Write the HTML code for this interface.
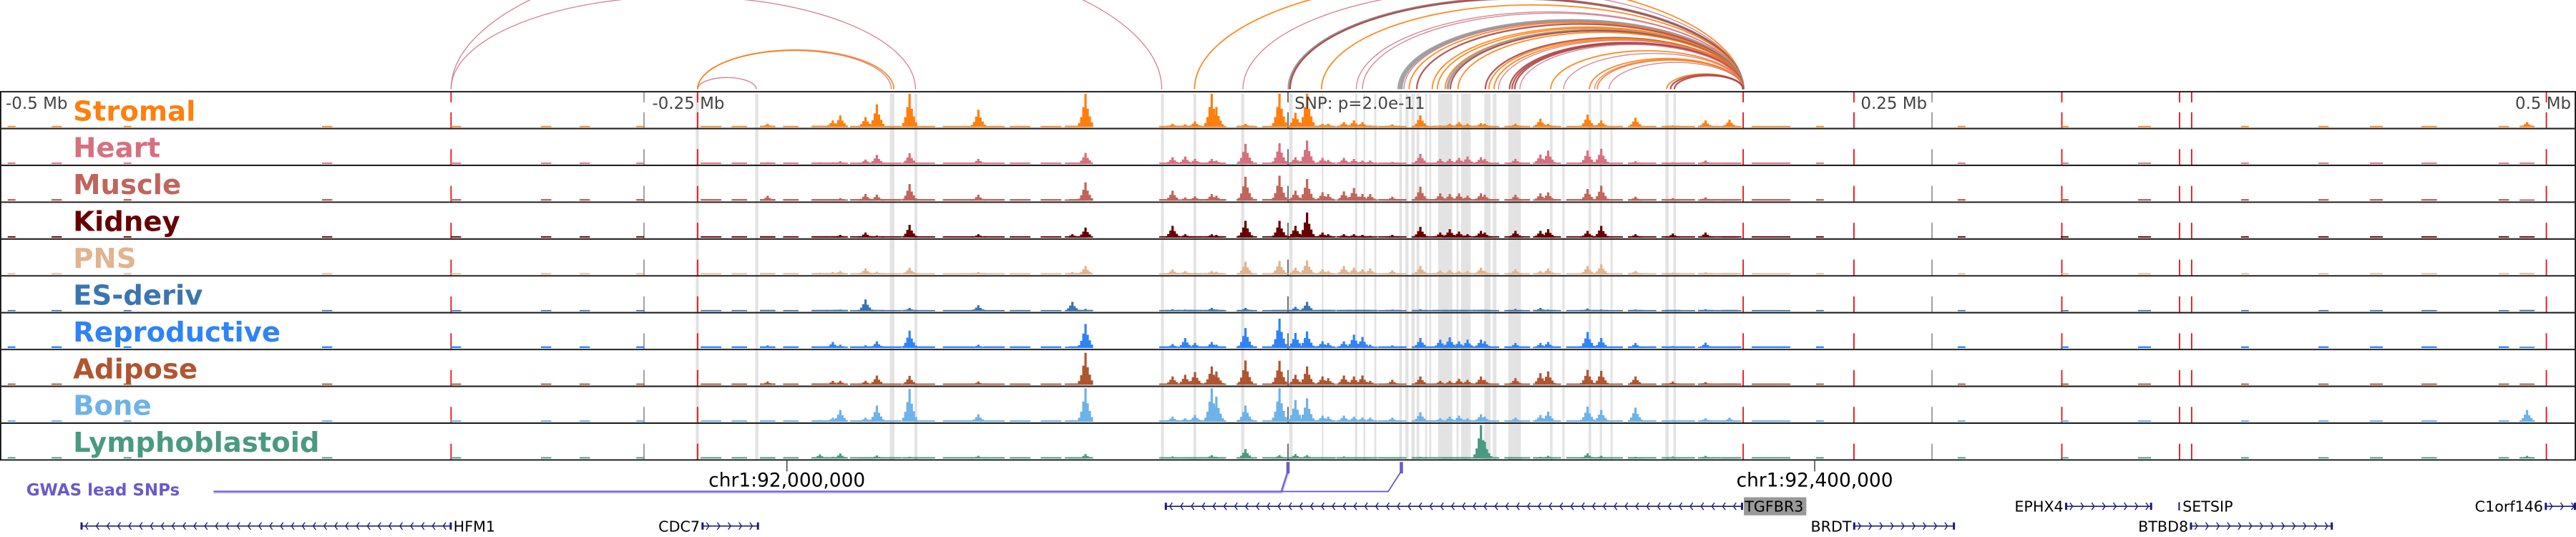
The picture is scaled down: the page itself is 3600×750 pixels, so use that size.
<!DOCTYPE html>
<html><head><meta charset="utf-8">
<style>
html,body{margin:0;padding:0;background:#fff;}
svg{display:block;}
text{font-family:"DejaVu Sans","Liberation Sans",sans-serif;}
</style></head>
<body>
<svg id="chart" xmlns="http://www.w3.org/2000/svg" width="3600" height="750" viewBox="0 0 1568 326.67" preserveAspectRatio="none">
<g id="arcs"></g>
<g id="bands"></g>
<g id="vlines"></g>
<g id="bars"></g>
<g id="frames"></g>
<g id="labels"></g>
<g id="axis"></g>
<g id="genes"></g>
</svg>
<script>
// ---------- data ----------
const tissues = ["Stromal","Heart","Muscle","Kidney","PNS","ES-deriv","Reproductive","Adipose","Bone","Lymphoblastoid"];
const peakKb = [-202,-181.7,-176.7,-173.8,-164,-159.6,-146.9,-120.2,-83.7,-78.6,-44.8,-39.9,-36.1,-29.6,-27.8,-16.5,-3.3,2.9,7.4,13.4,15.6,21.7,25.6,28.9,31.9,40.5,51.4,59.1,62.8,66.4,69.7,74.9,76.4,88.3,98,101,116.3,121.6,134.9,149.4,162.1,171.4,481];
const stromalVals = [.1,.03,.2,.35,.3,.68,1.0,.52,.03,1.0,.1,.08,.17,1.0,.6,.1,1.0,.43,1.0,.1,.1,.15,.2,.15,.05,.08,.35,.05,.1,.15,.1,.12,.1,.1,.25,.1,.37,.2,.28,.05,.2,.22,.15];
const heartVals = [.05,.05,.05,.08,.13,.27,.32,.15,.03,.33,.2,.22,.15,.15,.1,.6,.62,.2,.7,.18,.12,.18,.15,.1,.1,.06,.3,.15,.15,.18,.22,.2,.15,.15,.28,.4,.4,.45,.08,.05,.1,.02,.03];
const muscleVals = [.15,.05,.05,.08,.2,.18,.5,.18,.04,.55,.3,.1,.13,.2,.15,.72,.75,.3,.65,.25,.2,.28,.38,.2,.2,.12,.42,.22,.2,.22,.15,.22,.18,.18,.22,.25,.35,.45,.12,.08,.1,.04,.03];
const kidneyVals = [.03,.04,.03,.08,.15,.06,.38,.1,.1,.3,.35,.1,.03,.1,.08,.5,.5,.35,.75,.15,.1,.1,.1,.08,.05,.08,.32,.15,.25,.18,.1,.2,.15,.2,.2,.25,.2,.35,.1,.12,.15,.02,.02];
const pnsVals = [.03,.05,.07,.1,.18,.08,.2,.07,.07,.25,.15,.1,.05,.1,.08,.38,.4,.2,.42,.15,.1,.25,.2,.15,.18,.12,.25,.12,.13,.1,.1,.2,.1,.15,.1,.18,.25,.3,.1,.05,.06,.02,.02];
const esVals = [.03,.02,.04,.05,.35,.04,.1,.18,.28,.07,.06,.05,.03,.1,.05,.1,.03,.13,.28,.03,.02,.03,.04,.03,.03,.05,.06,.03,.03,.02,.03,.04,.02,.07,.1,.05,.08,.05,.05,.03,.06,.03,.03];
const reproVals = [.08,.03,.18,.1,.08,.2,.52,.1,.04,.72,.12,.3,.15,.18,.1,.6,.88,.45,.5,.2,.15,.2,.4,.33,.1,.08,.3,.25,.32,.2,.25,.25,.2,.15,.15,.18,.48,.3,.15,.06,.16,.03,.03];
const adiposeVals = [.1,.04,.12,.12,.12,.28,.27,.1,.03,.96,.25,.3,.38,.55,.4,.73,.72,.3,.55,.25,.2,.28,.25,.28,.12,.15,.25,.12,.12,.18,.15,.25,.15,.2,.35,.4,.45,.42,.25,.1,.08,.04,.03];
const boneVals = [.04,.05,.12,.35,.12,.48,.98,.22,.05,1.0,.15,.1,.2,1.0,.75,.48,1.0,.65,.7,.18,.15,.18,.15,.12,.12,.12,.28,.1,.15,.18,.1,.22,.15,.12,.2,.3,.45,.35,.42,.05,.1,.12,.35];
const lymphoVals = [.03,.12,.05,.15,.04,.09,.05,.08,.03,.13,.06,.03,.03,.1,.05,.28,.1,.13,.1,.03,.03,.06,.03,.03,.02,.03,.05,.03,.04,.03,.03,1.0,.5,.03,.05,.08,.15,.08,.05,.06,.08,.03,.08];
const bgStartKb = [-497,-480,-452,-375,-325,-290,-275,-253,-228,-216,-205,-196,-185,-170,-158,-145,-134,-118,-108,-96,-85,-50,-41,-20,-10,5,20,35,48,60,72,84,96,108,118,132,145,160,180,205,260,300,330,370,400,420,440,470];
const bgEndKb =   [-494,-476,-449,-371,-321,-286,-271,-250,-220,-210,-199,-190,-172,-160,-150,-137,-122,-110,-100,-88,-78,-43,-24,-12,3,18,33,46,58,70,82,94,106,116,130,143,158,176,195,208,263,303,335,373,404,425,446,474];
const bgLevel = [.035,.04,.05,.04,.035,.035,.05,.04,.04,.04];
const bandStartKb = [-229.9,-206.8,-154.6,-145,-49.3,-36.7,-18.2,0.45,13.1,26,29.3,33.5,43.2,45.5,47.9,49.9,53.2,54.8,58.3,65.4,67.2,76.2,79.5,85.5,101.7,106.5,116.7,121,125.2,146.5,149.6];
const bandEndKb =   [-228.7,-205.6,-152.8,-143.9,-48.2,-35.6,-17,1.78,13.7,26.9,30,34.3,44.2,46.8,49.2,51,54,55.6,63.8,66.2,70.9,78.6,80.9,90.4,102.7,107.4,117.7,121.9,126,147.8,150.6];
const redLineKb = [-324.9,-229.2,176.7,219.7,300.4,346.1,350.8,488.5];
const tickKb = [-250,250];
const snpKb = 0;
const arcStartKb = [-324.9,-324.9,-229.2,-229.2,-229.2,-36.3,-17.5,0.3,0.5,0.8,13,26.5,28.9,43,44,45,47,50,56,58,61,62,63,66,76.6,78,80,81.7,86,87,88,90,102,107,117,119,120,124.6,147,148.5,150];
const arcEndKb =   [-144.6,-49,-206.4,-154,-153,176.7,176.7,176.7,176.7,176.7,176.7,176.7,176.7,176.7,176.7,176.7,176.7,176.7,176.7,176.7,176.7,176.7,176.7,176.7,176.7,176.7,176.7,176.7,176.7,176.7,176.7,176.7,176.7,176.7,176.7,176.7,176.7,176.7,176.7,176.7,176.7];
const arcType = ["pink","pink","pink","pink","orange","orange","pink","gray","gray","darkred","orange","pink","pink","gray","gray","pink","orange","darkred","orange","orange","orange","gray","darkred","orange","darkred","orange","orange","pink","darkred","darkred","darkred","pink","orange","pink","orange","pink","orange","pink","orange","darkred","darkred"];
const axisLabels = ["-0.5 Mb","-0.25 Mb","0.25 Mb","0.5 Mb"];
const axisLabelKb = [-500,-250,250,500];

// ---------- layout ----------
const NS="http://www.w3.org/2000/svg";
const colors=["#ff7f0e","#d6707f","#c0655c","#670000","#e1b48f","#3a75b0","#2f83f5","#b0552f","#6db3e8","#4a9a82"];
const tissueVals=[stromalVals,heartVals,muscleVals,kidneyVals,pnsVals,esVals,reproVals,adiposeVals,boneVals,lymphoVals];
const arcColors={pink:"#d07a8c",orange:"#ff7f0e",gray:"#9a9a9a",darkred:"#b04848"};
const arcWidths={pink:0.6,orange:0.8,gray:1.6,darkred:1.0};
const W=1568, PT=55.8, TH=22.4, NT=10, PB=PT+TH*NT, MAXH=20.3;
const x=kb=>784+kb*1.568;
function mk(tag,attrs,parent){const e=document.createElementNS(NS,tag);for(const k in attrs)e.setAttribute(k,attrs[k]);parent.appendChild(e);return e;}

// arcs
const arcs=document.getElementById('arcs');
for(let i=0;i<arcStartKb.length;i++){
  const x1=x(arcStartKb[i]),x2=x(arcEndKb[i]);const a=(x2-x1)/2,h=0.2*(x2-x1);
  const p=mk('path',{d:`M${x1},${PT-1.5} A${a},${h} 0 0 1 ${x2},${PT-1.5}`,fill:'none',stroke:arcColors[arcType[i]],'stroke-width':arcWidths[arcType[i]],'stroke-opacity':0.9},arcs);
  
  
}
// bands
const bands=document.getElementById('bands');
for(let i=0;i<bandStartKb.length;i++){
  const r=mk('rect',{x:x(bandStartKb[i]),y:PT+1,width:Math.max(1,x(bandEndKb[i])-x(bandStartKb[i])),height:PB-PT-1,fill:'#e3e3e3'},bands);
  
  
}
// vertical dashed lines
const vl=document.getElementById('vlines');
function vline(kb,color,w,name){
  for(let t=0;t<NT;t++){
    const top=PT+t*TH;
    const l=mk('line',{x1:x(kb),x2:x(kb),y1:top+12.5,y2:top+TH,stroke:color,'stroke-width':w},vl);
    
    
    if(t===0){const l2=mk('line',{x1:x(kb),x2:x(kb),y1:top,y2:top+6.5,stroke:color,'stroke-width':w},vl);
      
      }
  }
}
redLineKb.forEach(k=>vline(k,'#e8141c',0.8,'enhancer-marker-line'));
tickKb.forEach(k=>vline(k,'#777',0.6,'axis-tick-line'));
vline(snpKb,'#666',0.8,'snp-line');

// bars
const bars=document.getElementById('bars');
for(let t=0;t<NT;t++){
  const g=mk('g',{fill:colors[t]},bars);
  
  
  const base=PT+(t+1)*TH-0.9;
  for(let i=0;i<bgStartKb.length;i++){
    const hh=bgLevel[t]*MAXH;
    const r=mk('rect',{x:x(bgStartKb[i]),y:base-hh,width:x(bgEndKb[i])-x(bgStartKb[i]),height:hh},g);
    
    
  }
  const vals=tissueVals[t];
  for(let i=0;i<peakKb.length;i++){
    const v=vals[i], cx=x(peakKb[i]);
    const parts=[[0,1],[-1.3,0.6],[1.3,0.55],[-2.6,0.3],[2.6,0.32],[-3.9,0.12],[3.9,0.14]];
    parts.forEach(([dx,f])=>{
      const hh=Math.max(0.8,v*f*MAXH);
      const r=mk('rect',{x:cx+dx-0.7,y:base-hh,width:1.4,height:hh},g);
      
      
    });
  }
}
// frames
const fr=document.getElementById('frames');
mk('rect',{x:0.4,y:PT,width:W-0.8,height:PB-PT,fill:'none',stroke:'#111','stroke-width':0.8},fr);
for(let t=1;t<NT;t++){mk('line',{x1:0,x2:W,y1:PT+t*TH,y2:PT+t*TH,stroke:'#222','stroke-width':0.9},fr);}
// labels
const lb=document.getElementById('labels');
tissues.forEach((n,t)=>{
  const e=mk('text',{x:44.5,y:PT+t*TH+17.5,fill:colors[t],'font-size':16.8,'font-weight':'bold'},lb);
  e.textContent=n;
  
  
});
// axis labels
const ax=document.getElementById('axis');
const anchors=['start','start','end','end'];
axisLabelKb.forEach((k,i)=>{
  let xx=x(k); if(i===0)xx=3.5; else if(i===1)xx+=5; else if(i===2)xx-=3; else xx=1565;
  const e=mk('text',{x:xx,y:66.3,fill:'#444','font-size':10,'text-anchor':anchors[i]},ax);
  e.textContent=axisLabels[i];
  
  
});
{const e=mk('text',{x:788,y:66.3,fill:'#444','font-size':10},ax);e.textContent='SNP: p=2.0e-11';

}

// gene track
const gn=document.getElementById('genes');
function txt(s,xx,yy,opts){const e=mk('text',Object.assign({x:xx,y:yy,'font-size':9,fill:'#000'},opts||{}),gn);e.textContent=s;return e;}
[['chr1:92,000,000',479],['chr1:92,400,000',1104.6]].forEach(([s,xx])=>{
  mk('line',{x1:xx,x2:xx,y1:PB,y2:PB+7,stroke:'#333','stroke-width':0.6},gn);
  const e=txt(s,xx,296,{'font-size':11.5,'text-anchor':'middle'});
  
  
});
{const e=txt('GWAS lead SNPs',16,301.5,{'font-size':10,'font-weight':'bold',fill:'#6a5acd'});

}
mk('polyline',{points:'130,299.3 780,299.3 784,287',fill:'none',stroke:'#c8c0f0','stroke-width':1.8},gn);
mk('polyline',{points:'130,299 780,299 784,286.5',fill:'none',stroke:'#6a5acd','stroke-width':0.8},gn);
mk('polyline',{points:'780,299 845,299 853,286.5',fill:'none',stroke:'#6a5acd','stroke-width':0.8},gn);
[784,853].forEach(xx=>{const r=mk('rect',{x:xx-1,y:281,width:2,height:7,fill:'#6a5acd'},gn);

});
function gene(name,x1,x2,y,strand,labelSide,hl){
  const g=mk('g',{},gn);
  
  
  mk('line',{x1:x1,x2:x2,y1:y,y2:y,stroke:'#1c1c78','stroke-width':0.7},g);
  for(let xx=x1+3;xx<x2-1;xx+=6.6){
    const d=strand<0?`M${xx+1.6},${y-2.2} L${xx},${y} L${xx+1.6},${y+2.2}`:`M${xx},${y-2.2} L${xx+1.6},${y} L${xx},${y+2.2}`;
    mk('path',{d:d,fill:'none',stroke:'#1c1c78','stroke-width':0.6},g);
  }
  mk('rect',{x:x1,y:y-2.2,width:1.3,height:4.4,fill:'#1c1c78'},g);
  mk('rect',{x:x2-1.3,y:y-2.2,width:1.3,height:4.4,fill:'#1c1c78'},g);
  let t;
  if(labelSide==='right'){
    if(hl)mk('rect',{x:x2+0.5,y:y-5.5,width:38,height:11,fill:'#999'},g);
    t=mk('text',{x:x2+1,y:y+3.3,'font-size':9,fill:'#000'},g);
  } else t=mk('text',{x:x1-1,y:y+3.3,'font-size':9,fill:'#000','text-anchor':'end'},g);
  t.textContent=name;
}
gene('HFM1',49,275,320,-1,'right');
gene('CDC7',427,462,320,1,'left');
gene('TGFBR3',709,1061,308,-1,'right',true);
gene('BRDT',1128,1190,320,1,'left');
gene('EPHX4',1257,1310,308,1,'left');
gene('BTBD8',1333,1420,320,1,'left');
gene('C1orf146',1549,1568,308,1,'left');
{const g=mk('g',{},gn);
mk('rect',{x:1326,y:305.5,width:0.9,height:5,fill:'#1c1c78'},g);
const t=mk('text',{x:1328.5,y:311.3,'font-size':9},g);t.textContent='SETSIP';}
</script>
</body></html>
